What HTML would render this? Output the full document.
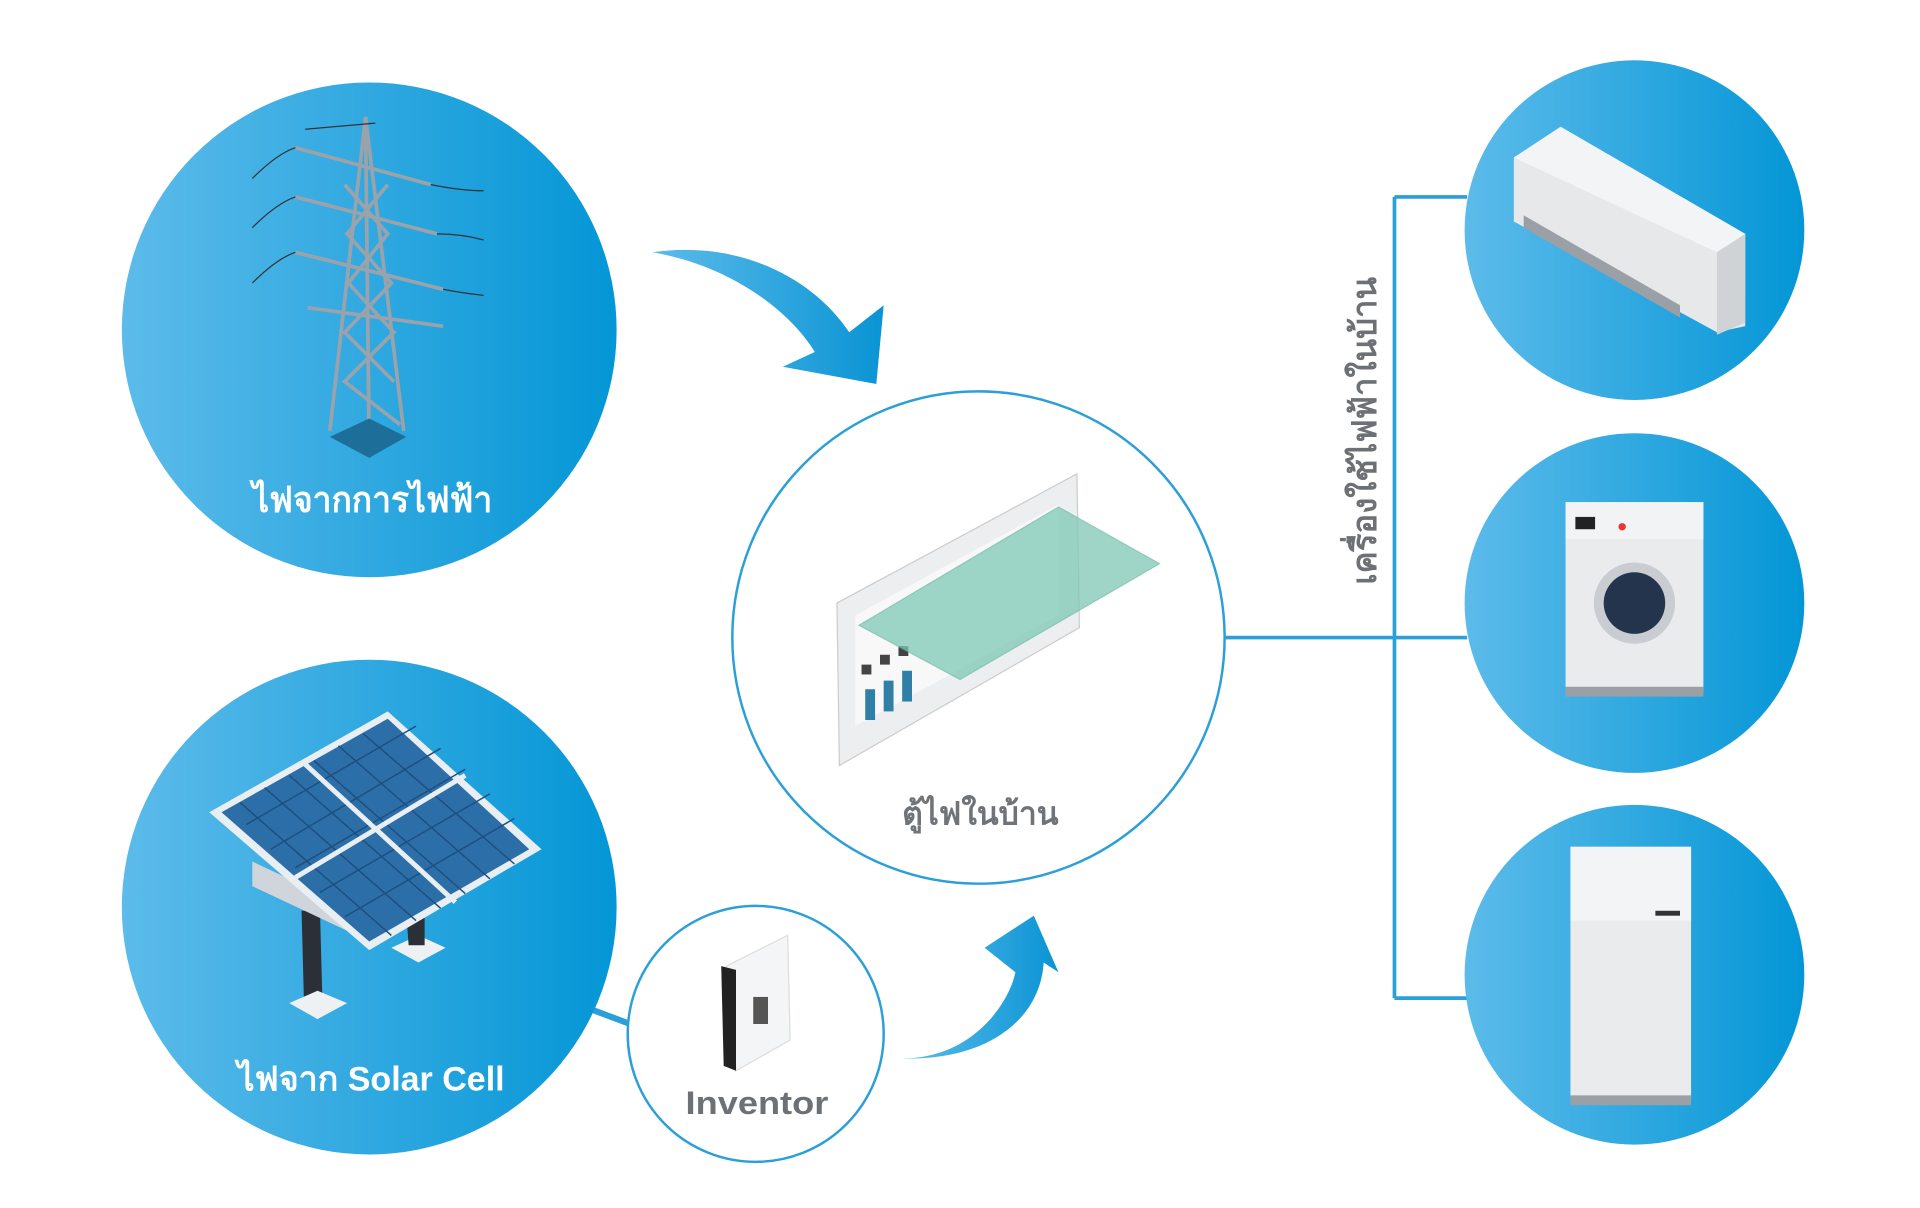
<!DOCTYPE html>
<html><head><meta charset="utf-8"><style>
html,body{margin:0;padding:0;background:#fff;}
svg{display:block}
text{font-family:"Liberation Sans","Noto Sans CJK SC",sans-serif;font-weight:bold}
</style></head><body>
<svg width="1920" height="1208" viewBox="0 0 1560 981.5" preserveAspectRatio="none">
<defs>
<linearGradient id="g" x1="0" x2="1" y1="0" y2="0"><stop offset="0" stop-color="#5cbbea"/><stop offset="1" stop-color="#0496d6"/></linearGradient>
<linearGradient id="ga" x1="0" x2="1"><stop offset="0" stop-color="#5cbbea"/><stop offset="1" stop-color="#0a94d4"/></linearGradient>
</defs>
<g stroke="#2a9fd8" stroke-width="3" fill="none">
<path d="M995 518 H1192 M1133 160 V811 M1133 160 H1192 M1133 811 H1192"/>
<path d="M480 820 L512 832" stroke-width="5"/>
</g>
<circle cx="300" cy="268" r="201" fill="url(#g)"/>
<circle cx="300" cy="737" r="201" fill="url(#g)"/>
<circle cx="1328" cy="187" r="138" fill="url(#g)"/>
<circle cx="1328" cy="490" r="138" fill="url(#g)"/>
<circle cx="1328" cy="792" r="138" fill="url(#g)"/>
<circle cx="795" cy="518" r="200" fill="#fff" stroke="#2a9fd8" stroke-width="2"/>
<circle cx="614" cy="840" r="104" fill="#fff" stroke="#2a9fd8" stroke-width="2"/>
<path d="M530 205 C600 195 660 225 690 270 L718 248 L712 312 L636 298 L662 286 C640 250 590 215 530 205 Z" fill="url(#ga)"/>
<path d="M733 860 C790 860 820 815 825 790 L800 770 L840 744 L860 790 L848 782 C845 830 800 862 733 860 Z" fill="url(#ga)"/>
<g stroke="#9aa3ab" stroke-width="3" fill="none">
<path d="M297 95 L268 350 M297 95 L328 350 M297 95 L300 370"/>
<path d="M240 120 L350 150 M240 160 L355 190 M240 205 L360 235 M250 250 L360 265"/>
<path d="M280 150 L315 190 L283 230 L320 270 L280 310 L325 345 M315 150 L282 190 L318 230 L280 270 L320 310"/>
</g>
<g stroke="#333" stroke-width="1" fill="none"><path d="M205 145 Q225 125 240 120 M205 185 Q225 165 240 160 M205 230 Q225 210 240 205 M350 150 Q375 155 393 155 M355 190 Q375 190 393 195 M360 235 Q375 238 393 240 M305 100 L248 105"/></g>
<path d="M300 340 L330 355 L300 372 L268 355 Z" fill="#1d6e99"/>
<path d="M245 740 L260 740 L262 815 L247 815 Z" fill="#2b3038"/>
<path d="M235 815 L258 805 L282 815 L258 828 Z" fill="#eef1f3"/>
<path d="M318 770 L340 760 L362 770 L340 782 Z" fill="#eef1f3"/>
<path d="M330 740 L345 740 L345 768 L332 768 Z" fill="#2b3038"/>
<path d="M205 700 L290 740 L290 760 L205 720 Z" fill="#cfd5da"/>
<path d="M170 660 L315 578 L440 690 L300 772 Z" fill="#e8eef2"/>
<path d="M180 660 L315 584 L430 690 L300 765 Z" fill="#2c6ea8"/>
<g stroke="#1d4f80" stroke-width="1.2"><path d="M195 652 L318 760 M215 640 L338 748 M235 630 L358 738 M255 618 L378 726 M275 606 L398 714 M295 596 L418 702 M200 670 L338 590 M220 690 L358 608 M240 705 L378 625 M260 725 L398 645 M280 745 L418 665"/></g>
<g stroke="#e8eef2" stroke-width="4"><path d="M248 621 L370 733 M240 713 L378 630"/></g>
<path d="M590 785 L640 760 L642 845 L598 870 Z" fill="#f4f5f6" stroke="#ddd"/>
<path d="M586 785 L598 788 L598 870 L588 866 Z" fill="#222"/>
<rect x="612" y="810" width="12" height="22" fill="#555"/>
<path d="M680 490 L875 385 L877 510 L682 622 Z" fill="#eceeef" stroke="#ccc"/>
<path d="M695 500 L860 410 L860 500 L695 590 Z" fill="#f8f8f8"/>
<g fill="#2f7fa7"><rect x="703" y="560" width="8" height="25"/><rect x="718" y="553" width="8" height="25"/><rect x="733" y="545" width="8" height="25"/></g>
<g fill="#444"><rect x="700" y="540" width="8" height="8"/><rect x="715" y="532" width="8" height="8"/><rect x="730" y="525" width="8" height="8"/></g>
<path d="M698 508 L860 412 L942 458 L780 552 Z" fill="#7ec8b4" opacity="0.75" stroke="#6ab9a5"/>
<path d="M1230 128 L1268 103 L1418 190 L1418 265 L1395 270 L1230 180 Z" fill="#e6e8ea"/>
<path d="M1230 128 L1268 103 L1418 190 L1395 205 Z" fill="#f3f4f5"/>
<path d="M1395 205 L1418 190 L1418 262 L1395 272 Z" fill="#cfd3d6"/>
<path d="M1238 175 L1365 248 L1365 258 L1238 185 Z" fill="#9aa0a6"/>
<rect x="1272" y="408" width="112" height="155" fill="#e9ebed"/>
<rect x="1272" y="408" width="112" height="30" fill="#f2f3f4"/>
<rect x="1280" y="420" width="16" height="10" fill="#222"/>
<circle cx="1318" cy="428" r="3" fill="#e33"/>
<circle cx="1328" cy="490" r="33" fill="#c9cdd1"/><circle cx="1328" cy="490" r="25" fill="#25344d"/>
<rect x="1272" y="558" width="112" height="8" fill="#9aa0a6"/>
<rect x="1276" y="688" width="98" height="205" fill="#e9ebed"/>
<rect x="1276" y="688" width="98" height="60" fill="#f3f4f5"/>
<rect x="1345" y="740" width="20" height="4" fill="#333"/>
<rect x="1276" y="890" width="98" height="8" fill="#9aa0a6"/>
<text x="205" y="416" font-size="29" fill="#fff" textLength="195" lengthAdjust="spacingAndGlyphs">ไฟจากการไฟฟ้า</text>
<text x="193" y="886" font-size="28" fill="#fff" textLength="217" lengthAdjust="spacingAndGlyphs">ไฟจาก Solar Cell</text>
<text x="733" y="670" font-size="26" fill="#707478" textLength="127" lengthAdjust="spacingAndGlyphs">ตู้ไฟในบ้าน</text>
<text x="557" y="905" font-size="26" fill="#6d7175" textLength="116" lengthAdjust="spacingAndGlyphs">Inventor</text>
<text transform="translate(1118 475) rotate(-90)" font-size="28" fill="#6d7175" textLength="250" lengthAdjust="spacingAndGlyphs">เครื่องใช้ไฟฟ้าในบ้าน</text>
</svg>
</body></html>
